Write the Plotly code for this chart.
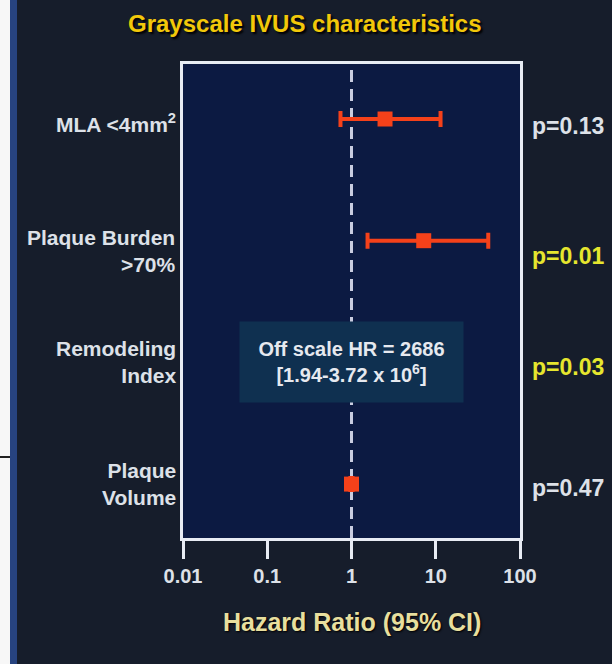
import plotly.graph_objects as go

# ---- data ----
categories = ["MLA <4mm<sup>2</sup>", "Plaque Burden<br>>70%", "Remodeling<br>Index", "Plaque<br>Volume"]
hr = [2.5, 7.2, None, 1.0]
ci_low = [0.74, 1.55, None, 0.97]
ci_high = [11.4, 42.0, None, 1.03]
p_values = ["p=0.13", "p=0.01", "p=0.03", "p=0.47"]
p_significant = [False, True, True, False]
tick_vals = [0.01, 0.1, 1, 10, 100]
tick_text = ["0.01", "0.1", "1", "10", "100"]
offscale_text = "Off scale HR = 2686<br>[1.94-3.72 x 10<sup>6</sup>]"
offscale_index = 2

# ---- layout geometry (pixels) ----
W, H = 612, 664
L, R, T, B = 183, 520, 64, 538
pw, ph = R - L, B - T

def px_x(px):
    return (px - L) / pw

def px_y(py):
    return (B - py) / ph

BG = "#161d2b"
PLOT_BG = "#0c1a42"
RED = "#f5411a"
LABEL = "#dde1e8"
YELLOW_P = "#e6e62e"
FONT = "Liberation Sans, Arial"

yidx = list(range(len(categories)))
xs = [v for v in hr if v is not None]
ys = [i for i, v in zip(yidx, hr) if v is not None]
eplus = [h - v for h, v in zip([c for c in ci_high if c is not None], xs)]
eminus = [v - l for l, v in zip([c for c in ci_low if c is not None], xs)]

y_top, y_bot = -0.452, 3.443

fig = go.Figure()

# reference line at HR = 1
fig.add_trace(go.Scatter(
    x=[1, 1], y=[y_bot, y_top], mode="lines",
    line=dict(color="#c9cde0", width=3, dash="12px,7px"),
    hoverinfo="skip", showlegend=False))

fig.add_trace(go.Scatter(
    x=xs, y=ys, mode="markers",
    marker=dict(symbol="square", size=15, color=RED),
    error_x=dict(type="data", symmetric=False, array=eplus, arrayminus=eminus,
                 color=RED, thickness=4, width=8),
    showlegend=False))

annotations = []
# category labels
label_shift = [-4, -10, 0, 0]
for i, (c, s) in enumerate(zip(categories, label_shift)):
    annotations.append(dict(
        x=px_x(178), xref="paper", y=i, yref="y", text=c, showarrow=False,
        xanchor="right", yanchor="middle", align="right", yshift=s,
        font=dict(family=FONT, size=21, color=LABEL, weight="bold")))
# p values
p_shift = [-7, -15, -5, -4]
for i, (p, sig, s) in enumerate(zip(p_values, p_significant, p_shift)):
    annotations.append(dict(
        x=px_x(530), xref="paper", y=i, yref="y", text=p, showarrow=False,
        xanchor="left", yanchor="middle", yshift=s,
        font=dict(family=FONT, size=23,
                  color=YELLOW_P if sig else LABEL, weight="bold")))
# off-scale box
annotations.append(dict(
    x=0, xref="x", y=offscale_index, yref="y", text=offscale_text, showarrow=False,
    xanchor="center", yanchor="middle", align="center",
    bgcolor="#0f3050", width=207, height=64, borderpad=8,
    font=dict(family=FONT, size=20, color="#e6e9ef", weight="bold")))
# axis title
annotations.append(dict(
    x=px_x(352), xref="paper", y=px_y(622), yref="paper",
    text="Hazard Ratio (95% CI)", showarrow=False, xanchor="center", yanchor="middle",
    font=dict(family=FONT, size=25, color="#e8df9e", weight="bold",
              shadow="1px 1px 2px #000")))
# title
annotations.append(dict(
    x=px_x(305), xref="paper", y=px_y(24), yref="paper",
    text="Grayscale IVUS characteristics", showarrow=False, xanchor="center", yanchor="middle",
    font=dict(family=FONT, size=24, color="#f2c80a", weight="bold",
              shadow="2px 2px 2px #000")))

shapes = [
    dict(type="rect", xref="paper", yref="paper", x0=px_x(0), x1=px_x(10),
         y0=px_y(H), y1=px_y(0), fillcolor="#f7f7f7", line=dict(width=0), layer="below"),
    dict(type="rect", xref="paper", yref="paper", x0=px_x(10), x1=px_x(17),
         y0=px_y(H), y1=px_y(0), fillcolor="#27437f", line=dict(width=0), layer="below"),
    dict(type="line", xref="paper", yref="paper", x0=px_x(0), x1=px_x(10),
         y0=px_y(457), y1=px_y(457), line=dict(color="#222", width=2)),
]

fig.update_layout(
    width=W, height=H,
    margin=dict(l=L, r=W - R, t=T, b=H - B, pad=0),
    paper_bgcolor=BG, plot_bgcolor=PLOT_BG,
    annotations=annotations, shapes=shapes,
    xaxis=dict(type="log", range=[-2, 2], tickvals=tick_vals, ticktext=tick_text,
               showgrid=False, zeroline=False, showline=True, mirror=True,
               linecolor="#e8ecf4", linewidth=3, ticks="outside", ticklen=18,
               tickwidth=3, tickcolor="#e8ecf4",
               tickfont=dict(family=FONT, size=20, color=LABEL, weight="bold")),
    yaxis=dict(range=[y_bot, y_top], showticklabels=False, showgrid=False, zeroline=False,
               showline=True, mirror=True, linecolor="#e8ecf4", linewidth=3, ticks=""),
)

fig.write_html("out.html", config={"displayModeBar": False},
               post_script="document.body.style.margin='0';document.body.style.overflow='hidden';")
